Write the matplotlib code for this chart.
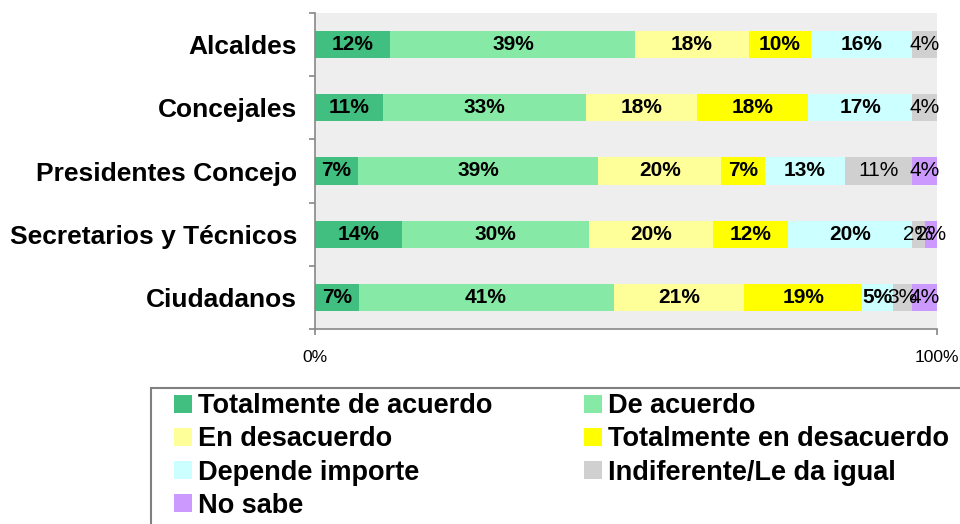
import matplotlib
matplotlib.use("Agg")
import matplotlib.pyplot as plt
from matplotlib.ticker import FixedLocator
from matplotlib.patches import Rectangle
from matplotlib.legend_handler import HandlerPatch

plt.rcParams["font.family"] = ["Liberation Sans", "DejaVu Sans"]

categories = ["Alcaldes", "Concejales", "Presidentes Concejo",
              "Secretarios y Técnicos", "Ciudadanos"]
series = ["Totalmente de acuerdo", "De acuerdo", "En desacuerdo",
          "Totalmente en desacuerdo", "Depende importe",
          "Indiferente/Le da igual", "No sabe"]
values = [
    [12, 11, 7, 14, 7],
    [39, 33, 39, 30, 41],
    [18, 18, 20, 20, 21],
    [10, 18, 7, 12, 19],
    [16, 17, 13, 20, 5],
    [4, 4, 11, 2, 3],
    [0, 0, 4, 2, 4],
]
colors = ["#40BF80", "#86EAA6", "#FFFF99", "#FFFF00", "#CCFFFF",
          "#D0D0D0", "#CC99FF"]
bold_labels = [True, True, True, True, True, False, False]

# normalise rows to 100% (100% stacked bar)
totals = [sum(v[i] for v in values) for i in range(len(categories))]

fig = plt.figure(figsize=(9.6, 5.24), dpi=100)
ax = fig.add_axes([315 / 960, 1 - 329 / 524, 622 / 960, 316 / 524])
ax.set_facecolor("#EEEEEE")

y = list(range(len(categories)))
left = [0.0] * len(categories)
bars = []
for s, name in enumerate(series):
    widths = [values[s][i] / totals[i] * 100 for i in range(len(categories))]
    b = ax.barh(y, widths, left=left, height=0.43, color=colors[s],
                label=name, linewidth=0)
    bars.append(b)
    for i in range(len(categories)):
        if values[s][i] > 0:
            ax.text(left[i] + widths[i] / 2, y[i], f"{values[s][i]}%",
                    ha="center", va="center", fontsize=15,
                    fontweight="bold" if bold_labels[s] else "normal",
                    color="black")
    left = [left[i] + widths[i] for i in range(len(categories))]

ax.set_xlim(0, 100)
ax.set_ylim(len(categories) - 0.5, -0.5)

ax.set_yticks(y)
ax.set_yticklabels(categories, fontsize=19, fontweight="bold")
ax.yaxis.set_minor_locator(FixedLocator([i - 0.5 for i in range(len(categories) + 1)]))
ax.tick_params(axis="y", which="major", length=0, pad=13)
ax.tick_params(axis="y", which="minor", length=4, color="#888888", width=1.2)

ax.set_xticks([0, 100])
ax.set_xticklabels(["0%", "100%"], fontsize=12.5)
ax.tick_params(axis="x", length=4, color="#888888", width=1.2, pad=11)

for side in ["top", "right"]:
    ax.spines[side].set_visible(False)
for side in ["left", "bottom"]:
    ax.spines[side].set_color("#888888")
    ax.spines[side].set_linewidth(1.2)


# square legend marker drawn at the right end of the handle box
def square_patch(legend, orig_handle, xdescent, ydescent, width, height, fontsize):
    return Rectangle((width - height - xdescent, -ydescent), height, height)


# legend reads row by row in the reference
order = [0, 2, 4, 6, 1, 3, 5]
handles = [bars[k].patches[0] for k in order]
labels = [series[k] for k in order]
leg = fig.legend(handles, labels, loc="upper left",
                 bbox_to_anchor=(151 / 960, 1 - 388 / 524),
                 ncol=2, prop={"weight": "bold", "size": 19.5},
                 frameon=False, borderaxespad=0,
                 handlelength=1.3, handleheight=0.63, handletextpad=0.22,
                 columnspacing=2.75, labelspacing=0.26, borderpad=0.2,
                 handler_map={Rectangle: HandlerPatch(patch_func=square_patch)})

# legend box runs past the right and bottom edges of the image
fig.patches.append(Rectangle((151 / 960, -0.05), 0.9, 1 - 388 / 524 + 0.05,
                             transform=fig.transFigure, fill=False,
                             edgecolor="#808080", linewidth=1.5))

fig.savefig("out.png", dpi=100)
